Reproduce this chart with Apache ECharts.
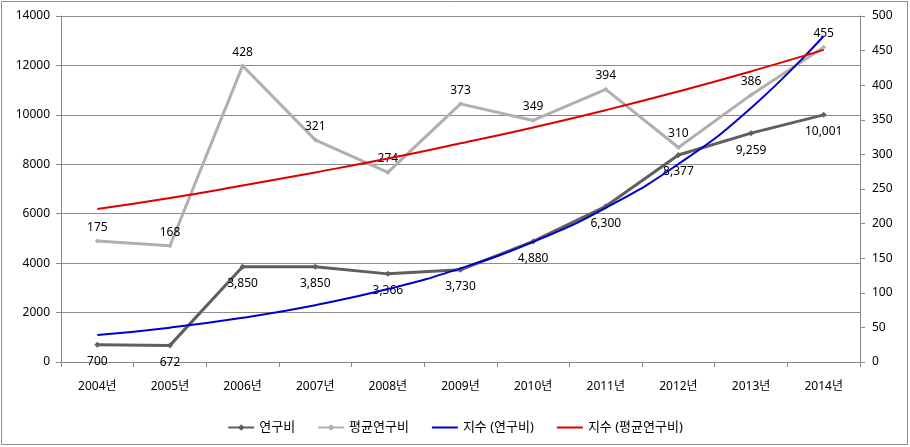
<!DOCTYPE html>
<html><head><meta charset="utf-8">
<script src="https://cdn.jsdelivr.net/npm/echarts@6/dist/echarts.min.js"></script>
<style>html,body{margin:0;padding:0;background:#fff}#c{width:910px;height:447px}</style>
</head><body><div id="c"></div>
<script>
const categories = ['2004년','2005년','2006년','2007년','2008년','2009년','2010년','2011년','2012년','2013년','2014년'];
const rdCost = [700, 672, 3850, 3850, 3566, 3730, 4880, 6300, 8377, 9259, 10001];
const rdCostLabels = ['700','672','3,850','3,850','3,366','3,730','4,880','6,300','8,377','9,259','10,001'];
const avgCost = [175, 168, 428, 321, 274, 373, 349, 394, 310, 386, 455];
const trendRd = [1090, 1390, 1790, 2300, 2950, 3790, 4860, 6240, 8010, 10280, 13190];
const trendAvg = [221, 237, 255, 274, 294, 316, 339, 364, 391, 420, 451];
const leftTicks = {min: 0, max: 14000, interval: 2000};
const rightTicks = {min: 0, max: 500, interval: 50};

const FONT = '"Noto Sans", "Noto Sans CJK KR", sans-serif';
const chart = echarts.init(document.getElementById('c'), null, {renderer: 'canvas'});
chart.setOption({
  animation: false,
  textStyle: {fontFamily: FONT},
  graphic: [{type: 'rect', shape: {x: 1.5, y: 1.5, width: 906, height: 443}, style: {fill: 'none', stroke: '#8c8c8c', lineWidth: 1}, z: -1}],
  grid: {left: 61, right: 50, top: 16, bottom: 85},
  legend: {
    bottom: 8, left: 'center', itemWidth: 26, itemHeight: 8, itemGap: 22,
    textStyle: {fontFamily: FONT, fontSize: 13, color: '#000'},
    data: [
      {name: '연구비'},
      {name: '평균연구비'},
      {name: '지수 (연구비)', itemStyle: {opacity: 0}},
      {name: '지수 (평균연구비)', itemStyle: {opacity: 0}}
    ]
  },
  xAxis: {
    type: 'category', data: categories, boundaryGap: true,
    axisLine: {lineStyle: {color: '#888', width: 1}},
    axisTick: {show: true, inside: false, length: 5, lineStyle: {color: '#888'}},
    axisLabel: {color: '#000', fontSize: 12, margin: 19, fontFamily: FONT}
  },
  yAxis: [{
    type: 'value', min: leftTicks.min, max: leftTicks.max, interval: leftTicks.interval,
    axisLine: {show: true, lineStyle: {color: '#888'}},
    axisTick: {show: true, length: 5, lineStyle: {color: '#888'}},
    axisLabel: {color: '#000', fontSize: 12, margin: 11, fontFamily: FONT, formatter: v => String(v)},
    splitLine: {show: true, lineStyle: {color: '#8c8c8c', width: 1}}
  }, {
    type: 'value', position: 'right', min: rightTicks.min, max: rightTicks.max, interval: rightTicks.interval,
    axisLine: {show: true, lineStyle: {color: '#888'}},
    axisTick: {show: true, length: 5, lineStyle: {color: '#888'}},
    axisLabel: {color: '#000', fontSize: 12, margin: 12, fontFamily: FONT, formatter: v => String(v)},
    splitLine: {show: false}
  }],
  series: [{
    name: '연구비', type: 'line', yAxisIndex: 0, data: rdCost, z: 3,
    symbol: 'diamond', symbolSize: 6, showSymbol: true,
    itemStyle: {color: '#5f5f5f'}, lineStyle: {color: '#5f5f5f', width: 3},
    label: {show: true, position: 'bottom', distance: 8, color: '#000', fontSize: 12, fontFamily: FONT,
      formatter: p => rdCostLabels[p.dataIndex]}
  }, {
    name: '평균연구비', type: 'line', yAxisIndex: 1, data: avgCost, z: 2,
    symbol: 'diamond', symbolSize: 5, showSymbol: true,
    itemStyle: {color: '#b0b0b0'}, lineStyle: {color: '#b0b0b0', width: 3},
    label: {show: true, position: 'top', distance: 5, color: '#000', fontSize: 12, fontFamily: FONT}
  }, {
    name: '지수 (연구비)', type: 'line', yAxisIndex: 0, data: trendRd, z: 4,
    smooth: true, symbol: 'none', showSymbol: false,
    itemStyle: {color: '#0000cc'}, lineStyle: {color: '#0000cc', width: 2}
  }, {
    name: '지수 (평균연구비)', type: 'line', yAxisIndex: 1, data: trendAvg, z: 4,
    smooth: true, symbol: 'none', showSymbol: false,
    itemStyle: {color: '#dd0000'}, lineStyle: {color: '#dd0000', width: 2}
  }]
});
</script></body></html>
